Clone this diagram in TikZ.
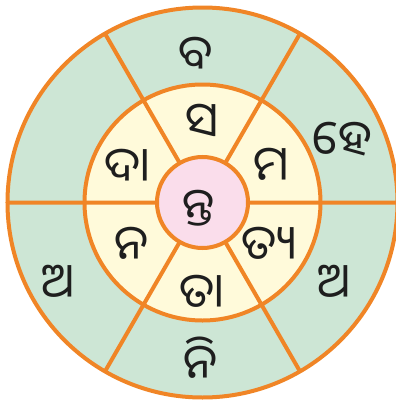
\documentclass[tikz,border=0pt]{standalone}
\usepackage{fontspec}
\newfontfamily\odiafont[Script=Oriya]{Noto Sans Oriya UI}
\usetikzlibrary{shapes}
\definecolor{ringGreen}{HTML}{CDE6D5}
\definecolor{ringYellow}{HTML}{FFFADA}
\definecolor{hubPink}{HTML}{FADDEB}
\definecolor{spokeOrange}{HTML}{F08526}
\definecolor{inkDark}{HTML}{1E1E1E}

\begin{document}
\begin{tikzpicture}[x=1bp, y=1bp,
ring/.style={circle, draw=spokeOrange, line width=4bp, inner sep=0pt, outer sep=0pt},
spoke/.style={draw=spokeOrange, line width=4bp},
syl/.style={font=\odiafont\fontsize{48}{52}\selectfont, text=inkDark, inner sep=0pt}
]
\useasboundingbox (-202.5,-198.5) rectangle (193.5,202.5);
\node[ring, fill=ringGreen, minimum size=390bp] (rim) at (0,0) {};
\node[ring, fill=ringYellow, minimum size=236bp] (band) at (0,0) {};
\node[ring, fill=hubPink, minimum size=91bp] (hub) at (0,0) {};

\draw[spoke] (hub.0) -- (rim.0) (hub.60) -- (rim.60) (hub.120) -- (rim.120)
  (hub.180) -- (rim.180) (hub.240) -- (rim.240) (hub.300) -- (rim.300);

% centre
\node[syl] (nta) at (-3.5,-5.5) {ନ୍ତ};

% inner ring
\node[syl] (sa) at (-0.5,80) {ସ};
\node[syl] (ma) at (68.3,35.8) {ମ};
\node[syl] (tya) at (66.5,-43.3) {ତ୍ୟ};
\node[syl] (taa) at (-0.8,-90.8) {ତା};
\node[syl] (na) at (-70.8,-43.3) {ନ};
\node[syl] (daa) at (-75,35) {ଦା};

% outer ring
\node[syl] (ba) at (-6.8,146.8) {ବ};
\node[syl] (he) at (139.8,61.8) {ହେ};
\node[syl] (aright) at (131.5,-80.5) {ଅ};
\node[syl] (ni) at (-1.8,-157.5) {ନି};
\node[syl] (aleft) at (-144.2,-80.8) {ଅ};
\end{tikzpicture}
\end{document}
